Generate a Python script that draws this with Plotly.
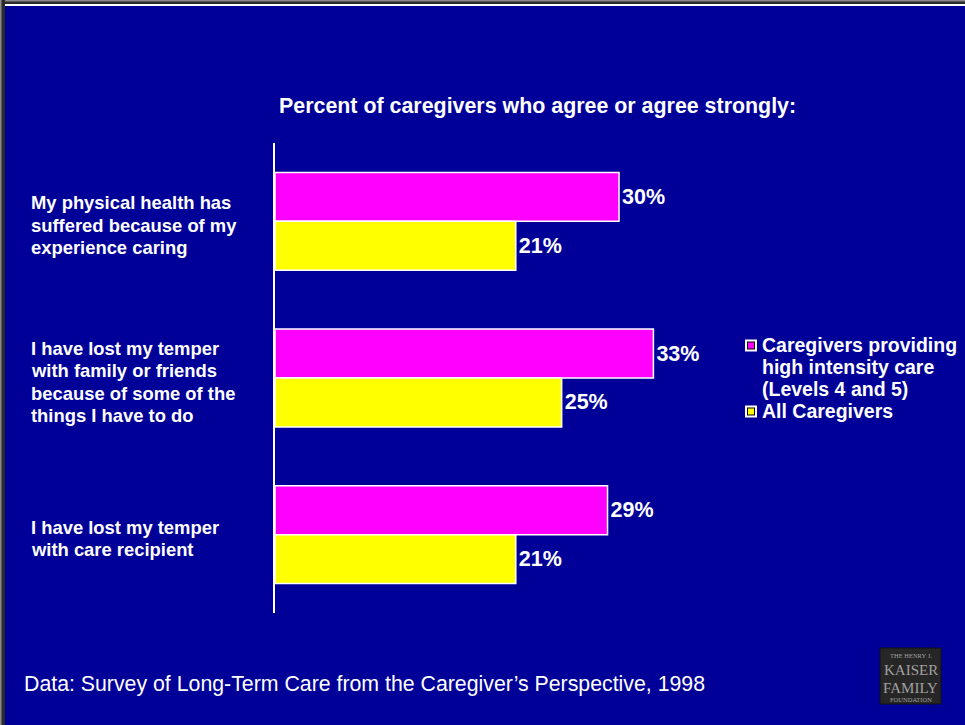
import plotly.graph_objects as go

# Survey statements (one entry per line of the label) and the two groups of respondents
statements = [
    ["My physical health has", "suffered because of my", "experience caring"],
    ["I have lost my temper", "with family or friends", "because of some of the", "things I have to do"],
    ["I have lost my temper", "with care recipient"],
]
categories = ["health", "temper_family", "temper_recipient"]
series_names = [["Caregivers providing", "high intensity care", "(Levels 4 and 5)"], ["All Caregivers"]]
series_colors = ["#FF00FF", "#FFFF00"]
high_intensity = [30, 33, 29]
all_caregivers = [21, 25, 21]

BG = "#000099"
WHITE = "#FFFFFF"
FONT = "Liberation Sans, Arial, sans-serif"

# Plot area in page pixels; helpers turn page pixels into paper coordinates
L, R, T, B = 275, 945, 143, 613
W, H = 965, 725


def px(x):
    return (x - L) / (R - L)


def py(y):
    return (B - y) / (B - T)


fig = go.Figure()
for lines, values, color in zip(series_names, [high_intensity, all_caregivers], series_colors):
    fig.add_trace(go.Bar(
        y=categories, x=values, name=" ".join(lines), orientation="h",
        marker=dict(color=color, line=dict(color=WHITE, width=1.5)),
        texttemplate="%{x}%", textposition="outside", cliponaxis=False,
        textfont=dict(family=FONT, size=21.5, color=WHITE, weight="bold"),
        showlegend=False,
    ))

# Multi-line statement labels, left aligned
LINE_H = 22.5
for cat, lines in zip(categories, statements):
    n = len(lines)
    for i, line in enumerate(lines):
        fig.add_annotation(
            x=px(29), xref="paper", y=cat, yref="y",
            text=line, showarrow=False, xanchor="left", yanchor="middle",
            yshift=((n - 1) / 2 - i) * LINE_H - 4,
            font=dict(family=FONT, size=18.4, color=WHITE, weight="bold"),
        )

# Legend: framed colour keys with wrapped series names
legend_rows = [345, 411]
for lines, color, y0 in zip(series_names, series_colors, legend_rows):
    for (a, b), fill in [((745, 757), WHITE), ((747, 755), "#000000"), ((748, 754), color)]:
        fig.add_shape(type="rect", xref="paper", yref="paper",
                      x0=px(a), x1=px(b), y0=py(y0 - (b - a) / 2 + 0.5), y1=py(y0 + (b - a) / 2 + 0.5),
                      fillcolor=fill, line=dict(width=0))
    for i, line in enumerate(lines):
        fig.add_annotation(
            x=px(760), xref="paper", y=py(y0 + 22 * i), yref="paper",
            text=line, showarrow=False, xanchor="left", yanchor="middle",
            font=dict(family=FONT, size=19.5, color=WHITE, weight="bold"),
        )

fig.add_annotation(
    x=px(537.5), xref="paper", y=py(106), yref="paper", xanchor="center", yanchor="middle",
    text="Percent of caregivers who agree or agree strongly:", showarrow=False,
    font=dict(family=FONT, size=21.4, color=WHITE, weight="bold"),
)
fig.add_annotation(
    x=px(22), xref="paper", y=py(684), yref="paper", xanchor="left", yanchor="middle",
    text="Data: Survey of Long-Term Care from the Caregiver\u2019s Perspective, 1998", showarrow=False,
    font=dict(family=FONT, size=21.3, color=WHITE),
)

# Foundation logo block
fig.add_shape(type="rect", xref="paper", yref="paper", x0=px(880), x1=px(941), y0=py(648), y1=py(704),
              fillcolor="#262626", line=dict(color="#111111", width=1))
for txt, yy, sz in [("THE HENRY J.", 655, 6.5), ("KAISER", 670, 15), ("FAMILY", 688, 15), ("FOUNDATION", 699, 6.5)]:
    fig.add_annotation(x=px(910.5), xref="paper", y=py(yy), yref="paper",
                       text=txt, showarrow=False, xanchor="center", yanchor="middle",
                       font=dict(family="Liberation Serif, serif", size=sz, color="#a0a0a0"))

# Slide frame edges along the top and left
fig.add_shape(type="rect", xref="paper", yref="paper", x0=px(0), x1=px(W), y0=py(0), y1=py(4),
              fillcolor="#2b2b2b", line=dict(width=0))
fig.add_shape(type="rect", xref="paper", yref="paper", x0=px(0), x1=px(W), y0=py(0), y1=py(1.5),
              fillcolor="#8a8a8a", line=dict(width=0))
fig.add_shape(type="rect", xref="paper", yref="paper", x0=px(5), x1=px(W), y0=py(4), y1=py(6),
              fillcolor=WHITE, line=dict(width=0))
fig.add_shape(type="rect", xref="paper", yref="paper", x0=px(0), x1=px(5), y0=py(0), y1=py(H),
              fillcolor="#2b2b2b", line=dict(width=0))
fig.add_shape(type="rect", xref="paper", yref="paper", x0=px(0), x1=px(1.5), y0=py(0), y1=py(H),
              fillcolor="#8a8a8a", line=dict(width=0))

scale = 344 / 30  # pixels per percentage point
fig.update_layout(
    width=W, height=H,
    margin=dict(l=L, r=W - R, t=T, b=H - B),
    paper_bgcolor=BG, plot_bgcolor=BG,
    barmode="group", bargap=0.376, bargroupgap=0,
    showlegend=False,
    xaxis=dict(range=[0, (R - L) / scale], visible=False, fixedrange=True),
    yaxis=dict(
        categoryorder="array", categoryarray=categories, autorange="reversed",
        showticklabels=False, showgrid=False, zeroline=False,
        showline=True, linecolor=WHITE, linewidth=2,
    ),
    font=dict(family=FONT, color=WHITE),
)

fig.write_html("out.html")
